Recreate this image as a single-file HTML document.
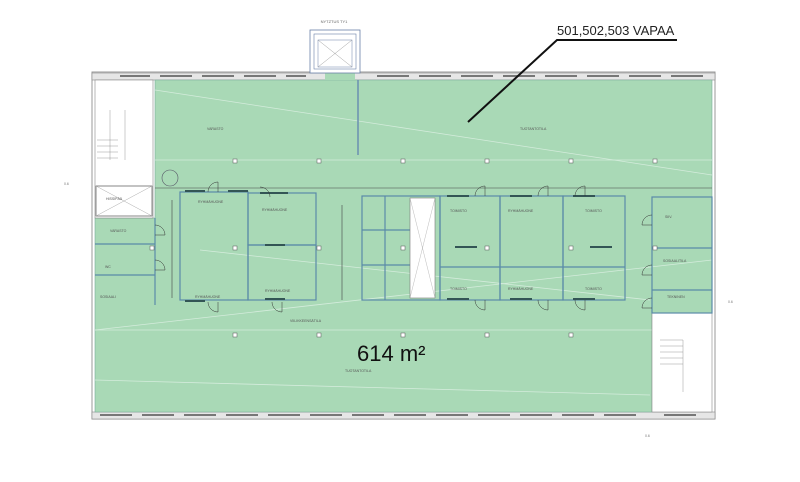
<!DOCTYPE html>
<html><head><meta charset="utf-8"><style>
html,body{margin:0;padding:0;background:#fff}
svg{display:block}
text{font-family:"Liberation Sans",sans-serif}
</style></head><body>
<svg width="800" height="482" viewBox="0 0 800 482" xmlns="http://www.w3.org/2000/svg">
<rect width="800" height="482" fill="#fff"/>
<rect x="92" y="72" width="623" height="347" fill="none" stroke="#999" stroke-width="1"/>
<rect x="92" y="73" width="623" height="7" fill="#e6e6e6" stroke="#888" stroke-width="0.6"/>
<rect x="92" y="412" width="623" height="7" fill="#e6e6e6" stroke="#888" stroke-width="0.6"/>
<g fill="#777">
<rect x="120" y="75" width="30" height="2"/><rect x="160" y="75" width="32" height="2"/><rect x="202" y="75" width="32" height="2"/><rect x="244" y="75" width="32" height="2"/><rect x="286" y="75" width="20" height="2"/><rect x="377" y="75" width="32" height="2"/><rect x="419" y="75" width="32" height="2"/><rect x="461" y="75" width="32" height="2"/><rect x="503" y="75" width="32" height="2"/><rect x="545" y="75" width="32" height="2"/><rect x="587" y="75" width="32" height="2"/><rect x="629" y="75" width="32" height="2"/><rect x="671" y="75" width="32" height="2"/>
<rect x="100" y="414" width="32" height="2"/><rect x="142" y="414" width="32" height="2"/><rect x="184" y="414" width="32" height="2"/><rect x="226" y="414" width="32" height="2"/><rect x="268" y="414" width="32" height="2"/><rect x="310" y="414" width="32" height="2"/><rect x="352" y="414" width="32" height="2"/><rect x="394" y="414" width="32" height="2"/><rect x="436" y="414" width="32" height="2"/><rect x="478" y="414" width="32" height="2"/><rect x="520" y="414" width="32" height="2"/><rect x="562" y="414" width="32" height="2"/><rect x="604" y="414" width="32" height="2"/><rect x="664" y="414" width="32" height="2"/>
</g>
<path d="M155 80 H712 V313 H652 V412 H95 V218 H155 Z" fill="#a9d9b6" stroke="#7a9" stroke-width="0.6"/>
<rect x="325" y="70" width="30" height="10" fill="#a9d9b6"/>
<g stroke="#d4ecdc" stroke-width="0.8" fill="none">
<line x1="155" y1="90" x2="712" y2="175"/><line x1="95" y1="330" x2="712" y2="260"/><line x1="155" y1="160" x2="712" y2="160"/><line x1="95" y1="330" x2="652" y2="330"/><line x1="200" y1="250" x2="650" y2="300"/><line x1="95" y1="380" x2="650" y2="395"/>
</g>
<rect x="95" y="80" width="58" height="138" fill="#fff" stroke="#888" stroke-width="0.6"/>
<rect x="96" y="186" width="56" height="30" fill="#fff" stroke="#555" stroke-width="0.7"/>
<line x1="96" y1="186" x2="152" y2="216" stroke="#aaa" stroke-width="0.5"/><line x1="152" y1="186" x2="96" y2="216" stroke="#aaa" stroke-width="0.5"/>
<g stroke="#999" stroke-width="0.5"><line x1="110" y1="110" x2="110" y2="160"/><line x1="125" y1="110" x2="125" y2="160"/><line x1="97" y1="140" x2="118" y2="140"/><line x1="97" y1="146" x2="118" y2="146"/><line x1="97" y1="152" x2="118" y2="152"/><line x1="97" y1="158" x2="118" y2="158"/></g>
<rect x="652" y="313" width="60" height="99" fill="#fff" stroke="#888" stroke-width="0.6"/>
<g stroke="#999" stroke-width="0.5"><line x1="660" y1="340" x2="683" y2="340"/><line x1="660" y1="346" x2="683" y2="346"/><line x1="660" y1="352" x2="683" y2="352"/><line x1="660" y1="358" x2="683" y2="358"/><line x1="660" y1="364" x2="683" y2="364"/><line x1="683" y1="340" x2="683" y2="392"/></g>
<rect x="310" y="30" width="50" height="43" fill="#fff" stroke="#6a80a8" stroke-width="0.8"/>
<rect x="314" y="34" width="42" height="35" fill="none" stroke="#6a80a8" stroke-width="0.6"/>
<rect x="318" y="40" width="34" height="27" fill="none" stroke="#6a80a8" stroke-width="0.5"/>
<line x1="318" y1="40" x2="352" y2="67" stroke="#888" stroke-width="0.4"/><line x1="352" y1="40" x2="318" y2="67" stroke="#888" stroke-width="0.4"/>
<text x="334" y="23" font-size="4" fill="#666" text-anchor="middle">NYTZTUS TY1</text>
<line x1="358" y1="80" x2="358" y2="155" stroke="#6a8fb0" stroke-width="1.5"/>
<g fill="none" stroke="#5a8aa8" stroke-width="1.2">
<rect x="180" y="192" width="68" height="108"/><rect x="248" y="193" width="68" height="52"/><rect x="248" y="245" width="68" height="55"/>
<rect x="362" y="196" width="78" height="104"/><rect x="440" y="196" width="60" height="104"/><rect x="500" y="196" width="63" height="104"/><rect x="563" y="196" width="62" height="104"/>
<line x1="440" y1="267" x2="625" y2="267"/>
<rect x="652" y="197" width="60" height="116"/><line x1="652" y1="248" x2="712" y2="248"/><line x1="652" y1="290" x2="712" y2="290"/>
<line x1="95" y1="244" x2="155" y2="244"/><line x1="95" y1="275" x2="155" y2="275"/><line x1="155" y1="218" x2="155" y2="305"/>
<line x1="362" y1="230" x2="410" y2="230"/><line x1="362" y1="265" x2="410" y2="265"/><line x1="385" y1="196" x2="385" y2="300"/>
</g>
<rect x="410" y="198" width="25" height="100" fill="#fff" stroke="#777" stroke-width="0.6"/>
<line x1="410" y1="198" x2="435" y2="298" stroke="#aaa" stroke-width="0.4"/><line x1="435" y1="198" x2="410" y2="298" stroke="#aaa" stroke-width="0.4"/>
<g fill="#355"><rect x="185" y="190" width="20" height="2"/><rect x="228" y="190" width="20" height="2"/><rect x="260" y="192" width="28" height="2"/><rect x="265" y="244" width="20" height="2"/><rect x="265" y="298" width="20" height="2"/><rect x="185" y="300" width="20" height="2"/>
<rect x="447" y="195" width="22" height="2"/><rect x="510" y="195" width="22" height="2"/><rect x="573" y="195" width="22" height="2"/><rect x="455" y="246" width="22" height="2"/><rect x="590" y="246" width="22" height="2"/><rect x="447" y="298" width="22" height="2"/><rect x="510" y="298" width="22" height="2"/><rect x="573" y="298" width="22" height="2"/></g>
<line x1="155" y1="188" x2="712" y2="188" stroke="#444" stroke-width="0.6"/>
<line x1="342" y1="205" x2="342" y2="300" stroke="#444" stroke-width="0.6"/>
<line x1="172" y1="200" x2="172" y2="298" stroke="#444" stroke-width="0.6"/>
<circle cx="170" cy="178" r="8" fill="none" stroke="#556" stroke-width="0.6"/>
<g fill="#fff" stroke="#555" stroke-width="0.5">
<rect x="233" y="159" width="4" height="4"/><rect x="317" y="159" width="4" height="4"/><rect x="401" y="159" width="4" height="4"/><rect x="485" y="159" width="4" height="4"/><rect x="569" y="159" width="4" height="4"/><rect x="653" y="159" width="4" height="4"/>
<rect x="150" y="246" width="4" height="4"/><rect x="233" y="246" width="4" height="4"/><rect x="317" y="246" width="4" height="4"/><rect x="401" y="246" width="4" height="4"/><rect x="485" y="246" width="4" height="4"/><rect x="569" y="246" width="4" height="4"/><rect x="653" y="246" width="4" height="4"/>
<rect x="233" y="333" width="4" height="4"/><rect x="317" y="333" width="4" height="4"/><rect x="401" y="333" width="4" height="4"/><rect x="485" y="333" width="4" height="4"/><rect x="569" y="333" width="4" height="4"/>
</g>
<g fill="none" stroke="#333" stroke-width="0.5">
<path d="M208 192 a10 10 0 0 1 10 -10 v10"/><path d="M270 197 a10 10 0 0 0 -10 -10"/><path d="M475 196 a10 10 0 0 1 10 -10 v10"/><path d="M538 196 a10 10 0 0 1 10 -10 v10"/><path d="M575 196 a10 10 0 0 1 10 -10 v10"/>
<path d="M475 300 a10 10 0 0 0 10 10 v-10"/><path d="M538 300 a10 10 0 0 0 10 10 v-10"/><path d="M575 300 a10 10 0 0 0 10 10 v-10"/><path d="M208 302 a10 10 0 0 0 10 10 v-10"/><path d="M272 302 a10 10 0 0 0 10 10 v-10"/>
<path d="M652 215 a10 10 0 0 0 -10 10 h10"/><path d="M652 265 a10 10 0 0 0 -10 10 h10"/><path d="M652 298 a10 10 0 0 0 -10 10 h10"/>
<path d="M155 225 a10 10 0 0 1 10 10 h-10"/><path d="M155 260 a10 10 0 0 1 10 10 h-10"/>
</g>
<g font-size="3.5" fill="#555">
<text x="207" y="130">VARASTO</text><text x="198" y="203">RYHMÄHUONE</text><text x="262" y="211">RYHMÄHUONE</text><text x="195" y="298">RYHMÄHUONE</text><text x="265" y="292">RYHMÄHUONE</text>
<text x="450" y="212">TOIMISTO</text><text x="508" y="212">RYHMÄHUONE</text><text x="585" y="212">TOIMISTO</text><text x="450" y="290">TOIMISTO</text><text x="508" y="290">RYHMÄHUONE</text><text x="585" y="290">TOIMISTO</text>
<text x="665" y="218">SIIV.</text><text x="663" y="262">SOSIAALITILA</text><text x="667" y="298">TEKNINEN</text>
<text x="520" y="130">TUOTANTOTILA</text><text x="345" y="372">TUOTANTOTILA</text><text x="290" y="322">VIILIKKEENSÄTILA</text>
<text x="106" y="200">HISSIPÄÄ</text><text x="110" y="232">VARASTO</text><text x="105" y="268">WC</text><text x="100" y="298">SOSIAALI</text>
</g>
<text x="557" y="35" font-size="13" fill="#222">501,502,503 VAPAA</text>
<polyline points="677,40 557,40 468,122" fill="none" stroke="#111" stroke-width="2"/>
<text x="357" y="361" font-size="22" fill="#111">614 m²</text>
<text x="64" y="185" font-size="3.5" fill="#777">0.6</text><text x="728" y="303" font-size="3.5" fill="#777">0.6</text><text x="645" y="437" font-size="3.5" fill="#777">0.6</text>
</svg>
</body></html>
